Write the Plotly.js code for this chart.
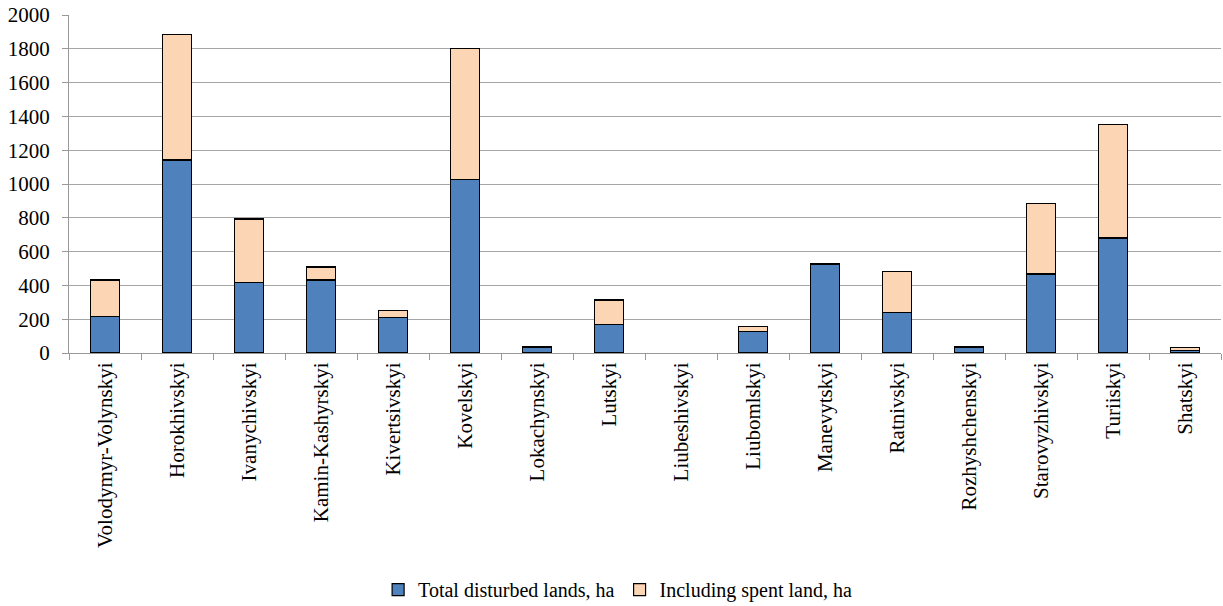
<!DOCTYPE html>
<html>
<head>
<meta charset="utf-8">
<script src="https://cdn.plot.ly/plotly-3.0.1.min.js"></script>
<style>html,body{margin:0;padding:0;background:#fff;}#chart{width:1223px;height:606px;}</style>
</head>
<body>
<div id="chart"></div>
<script>
const categories = ["Volodymyr-Volynskyi","Horokhivskyi","Ivanychivskyi","Kamin-Kashyrskyi","Kivertsivskyi","Kovelskyi","Lokachynskyi","Lutskyi","Liubeshivskyi","Liubomlskyi","Manevytskyi","Ratnivskyi","Rozhyshchenskyi","Starovyzhivskyi","Turiiskyi","Shatskyi"];
const totalDisturbed = [215,1142,416,432,211,1028,35,170,null,126,527,239,33,468,681,16];
const spentLand = [217,742,377,77,42,773,null,144,null,30,null,241,7,416,671,18];
const yTicks = [0,200,400,600,800,1000,1200,1400,1600,1800,2000];

const fam = "Liberation Serif, Times New Roman, serif";
const traces = [
  {type: "bar", name: "Total disturbed lands, ha", x: categories, y: totalDisturbed,
   marker: {color: "#4F81BD", line: {color: "#000", width: 1.2}}},
  {type: "bar", name: "Including spent land, ha", x: categories, y: spentLand,
   marker: {color: "#FCD5B5", line: {color: "#000", width: 1.2}}}
];
const layout = {
  width: 1223, height: 606,
  barmode: "stack", bargap: 0.59,
  margin: {l: 69, r: 2, t: 15, b: 253, autoexpand: false},
  paper_bgcolor: "#fff", plot_bgcolor: "#fff",
  font: {family: fam, size: 20, color: "#000"},
  showlegend: true,
  legend: {orientation: "h", xref: "container", x: 0.505, xanchor: "center",
           yref: "container", y: 0.027, yanchor: "middle",
           font: {family: fam, size: 20, color: "#000"}, traceorder: "normal", itemwidth: 30},
  xaxis: {type: "category", tickangle: -90, tickson: "boundaries", ticks: "outside",
          ticklen: 6, tickcolor: "#999", showline: true, linecolor: "#999", linewidth: 1,
          showgrid: false, tickfont: {family: fam, size: 21, color: "#000"}, automargin: false},
  yaxis: {range: [0, 2000], tickvals: yTicks, ticktext: yTicks.map(String),
          ticks: "outside", ticklen: 6, tickcolor: "#999", showline: true, linecolor: "#999",
          ticklabelstandoff: 8,
          showgrid: true, gridcolor: "#a6a6a6", gridwidth: 1, zeroline: false,
          tickfont: {family: fam, size: 21, color: "#000"}, automargin: false}
};
Plotly.newPlot("chart", traces, layout, {displayModeBar: false, staticPlot: true});
</script>
</body>
</html>
